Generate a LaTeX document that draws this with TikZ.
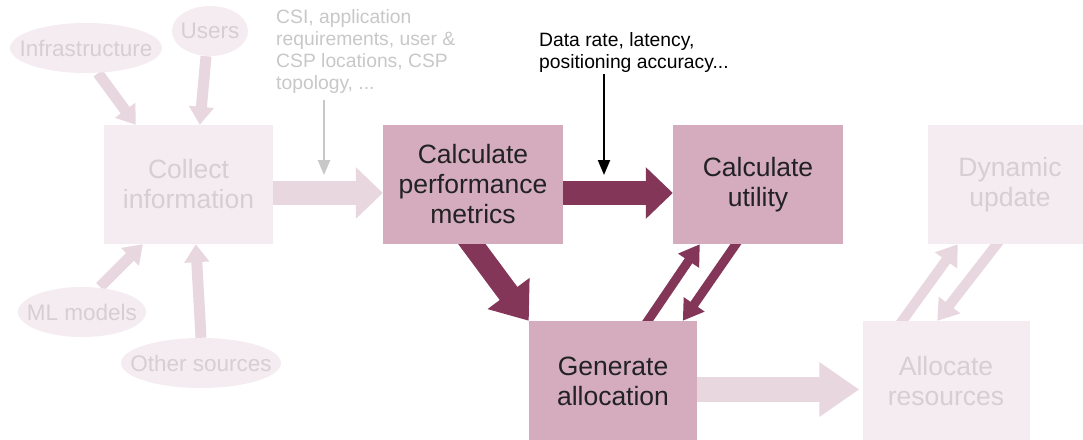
\documentclass[tikz,border=0pt]{standalone}
\usepackage{fontspec}
\setmainfont{Liberation Sans}
\usetikzlibrary{arrows.meta,calc,shapes.geometric}
\pgfdeclarelayer{bg}
\pgfsetlayers{bg,main}

\definecolor{activefill}{HTML}{D4ACBE}
\definecolor{activearrow}{HTML}{843659}
\definecolor{activetext}{HTML}{222222}
\definecolor{fadedfill}{HTML}{F5ECF1}
\definecolor{fadedarrow}{HTML}{E8D7DF}
\definecolor{fadedtext}{HTML}{D6CED1}
\definecolor{notegray}{HTML}{C8C8C8}

\tikzset{
  stagebox/.style={rectangle, inner sep=0pt, align=center,
    minimum height=119pt, font=\fontsize{26.5}{30}\selectfont},
  activebox/.style={stagebox, fill=activefill, text=activetext},
  fadedbox/.style={stagebox, fill=fadedfill, text=fadedtext},
  source/.style={ellipse, inner sep=0pt, fill=fadedfill, minimum height=50pt},
  sourcelabel/.style={inner sep=0pt, text=fadedtext,
    font=\fontsize{22.5}{24}\selectfont},
  note/.style={inner sep=0pt, align=left, anchor=north west,
    font=\fontsize{19.3}{22}\selectfont},
  fatflow/.style={line width=24pt, -{Triangle[length=27pt,width=50pt]}},
  thinflow/.style={line width=9pt, -{Triangle[length=20pt,width=24pt]}},
  pointer/.style={line width=2.4pt, -{Triangle[length=15pt,width=12pt]}},
}

\begin{document}
\begin{tikzpicture}[x=1pt,y=-1pt]
\clip (0,0) rectangle (1083,439);

% information sources
\node[source, minimum width=152pt] (infra) at (86,48) {};
\node[source, minimum width=76pt]  (users) at (210,31) {};
\node[source, minimum width=128pt] (ml)    at (82,312) {};
\node[source, minimum width=160pt] (other) at (201,363) {};
\node[sourcelabel] (infraText) at (infra) {Infrastructure};
\node[sourcelabel] (usersText) at (users) {Users};
\node[sourcelabel] (mlText)    at (ml)    {ML models};
\node[sourcelabel] (otherText) at (other) {Other sources};

% processing stages
\node[fadedbox, minimum width=169pt] (collect) at (188.5,184.5) {Collect\\information};
\node[activebox, minimum width=180pt] (perf) at (473,184.5) {Calculate\\performance\\metrics};
\node[activebox, minimum width=170pt] (util) at (758,184.5) {Calculate\\utility};
\node[fadedbox, minimum width=164pt] (dyn) at (1010,184.5) {Dynamic\\update};
\node[activebox, minimum width=168pt, minimum height=120pt] (gen) at (613,381) {Generate\\allocation};
\node[fadedbox, minimum width=167pt, minimum height=120pt] (alloc) at (946,381) {Allocate\\resources};

% annotations
\node[note, text=notegray] (inputs) at (276,9)
  {CSI, application\\requirements, user \&\\CSP locations, CSP\\topology, ...};
\node[note, text=black] (metrics) at (539,32)
  {Data rate, latency,\\positioning accuracy...};

\coordinate (inputsTail) at (324,100);
\coordinate (inputsHead) at (324,175);
\coordinate (metricsTail) at (604,74);
\coordinate (metricsHead) at (604,175);

\begin{pgfonlayer}{bg}
  \fill[white] (0,0) rectangle (1083,439);

  % sources feeding the collection stage
  \begin{scope}[fadedarrow, line width=11pt, -{Triangle[length=18pt,width=24pt]}]
    \draw ([xshift=12pt]infra.south) -- ([xshift=32pt]collect.north west);
    \draw ([xshift=-4pt]users.south) -- ([xshift=96pt]collect.north west);
    \draw ([xshift=18pt]ml.north) -- ([xshift=39pt]collect.south west);
    \draw (other.north) -- ([xshift=92pt]collect.south west);
  \end{scope}

  % main flow
  \draw[fatflow, fadedarrow] ([yshift=-8.5pt]collect.east) -- ([yshift=-8.5pt]perf.west);
  \draw[fatflow, activearrow] ([yshift=-8.5pt]perf.east) -- ([yshift=-8.5pt]util.west);
  \coordinate (pgTail) at ([xshift=-1pt]perf.south);
  \coordinate (pgHead) at (gen.north west);
  \draw[activearrow, line width=22pt, -{Triangle[length=34pt,width=50pt]}]
    ($(pgTail)!-10pt!(pgHead)$) -- (pgHead);
  \draw[fatflow, fadedarrow, line width=25pt, -{Triangle[length=40pt,width=52pt]}]
    ([yshift=-8.5pt]gen.east) -- ([yshift=-8.5pt,xshift=-3pt]alloc.west);

  % optimisation loop
  \coordinate (guTail) at ([xshift=119pt]gen.north west);
  \coordinate (guHead) at ([xshift=27pt]util.south west);
  \coordinate (ugTail) at ([xshift=63pt]util.south west);
  \coordinate (ugHead) at ([xshift=154pt]gen.north west);
  \draw[thinflow, activearrow] ($(guTail)!-8pt!(guHead)$) -- (guHead);
  \draw[thinflow, activearrow] ($(ugTail)!-8pt!(ugHead)$) -- (ugHead);

  % update loop
  \coordinate (adTail) at ([xshift=40pt]alloc.north west);
  \coordinate (adHead) at ([xshift=30pt]dyn.south west);
  \coordinate (daTail) at ([xshift=69pt]dyn.south west);
  \coordinate (daHead) at ([xshift=75pt]alloc.north west);
  \draw[thinflow, fadedarrow, line width=10pt, -{Triangle[length=20pt,width=26pt]}]
    ($(adTail)!-8pt!(adHead)$) -- (adHead);
  \draw[thinflow, fadedarrow, line width=10pt, -{Triangle[length=20pt,width=26pt]}]
    ($(daTail)!-8pt!(daHead)$) -- (daHead);
\end{pgfonlayer}

% annotation pointers
\draw[pointer, notegray] (inputsTail) -- (inputsHead);
\draw[pointer, black, line width=2.2pt] (metricsTail) -- (metricsHead);
\end{tikzpicture}
\end{document}
